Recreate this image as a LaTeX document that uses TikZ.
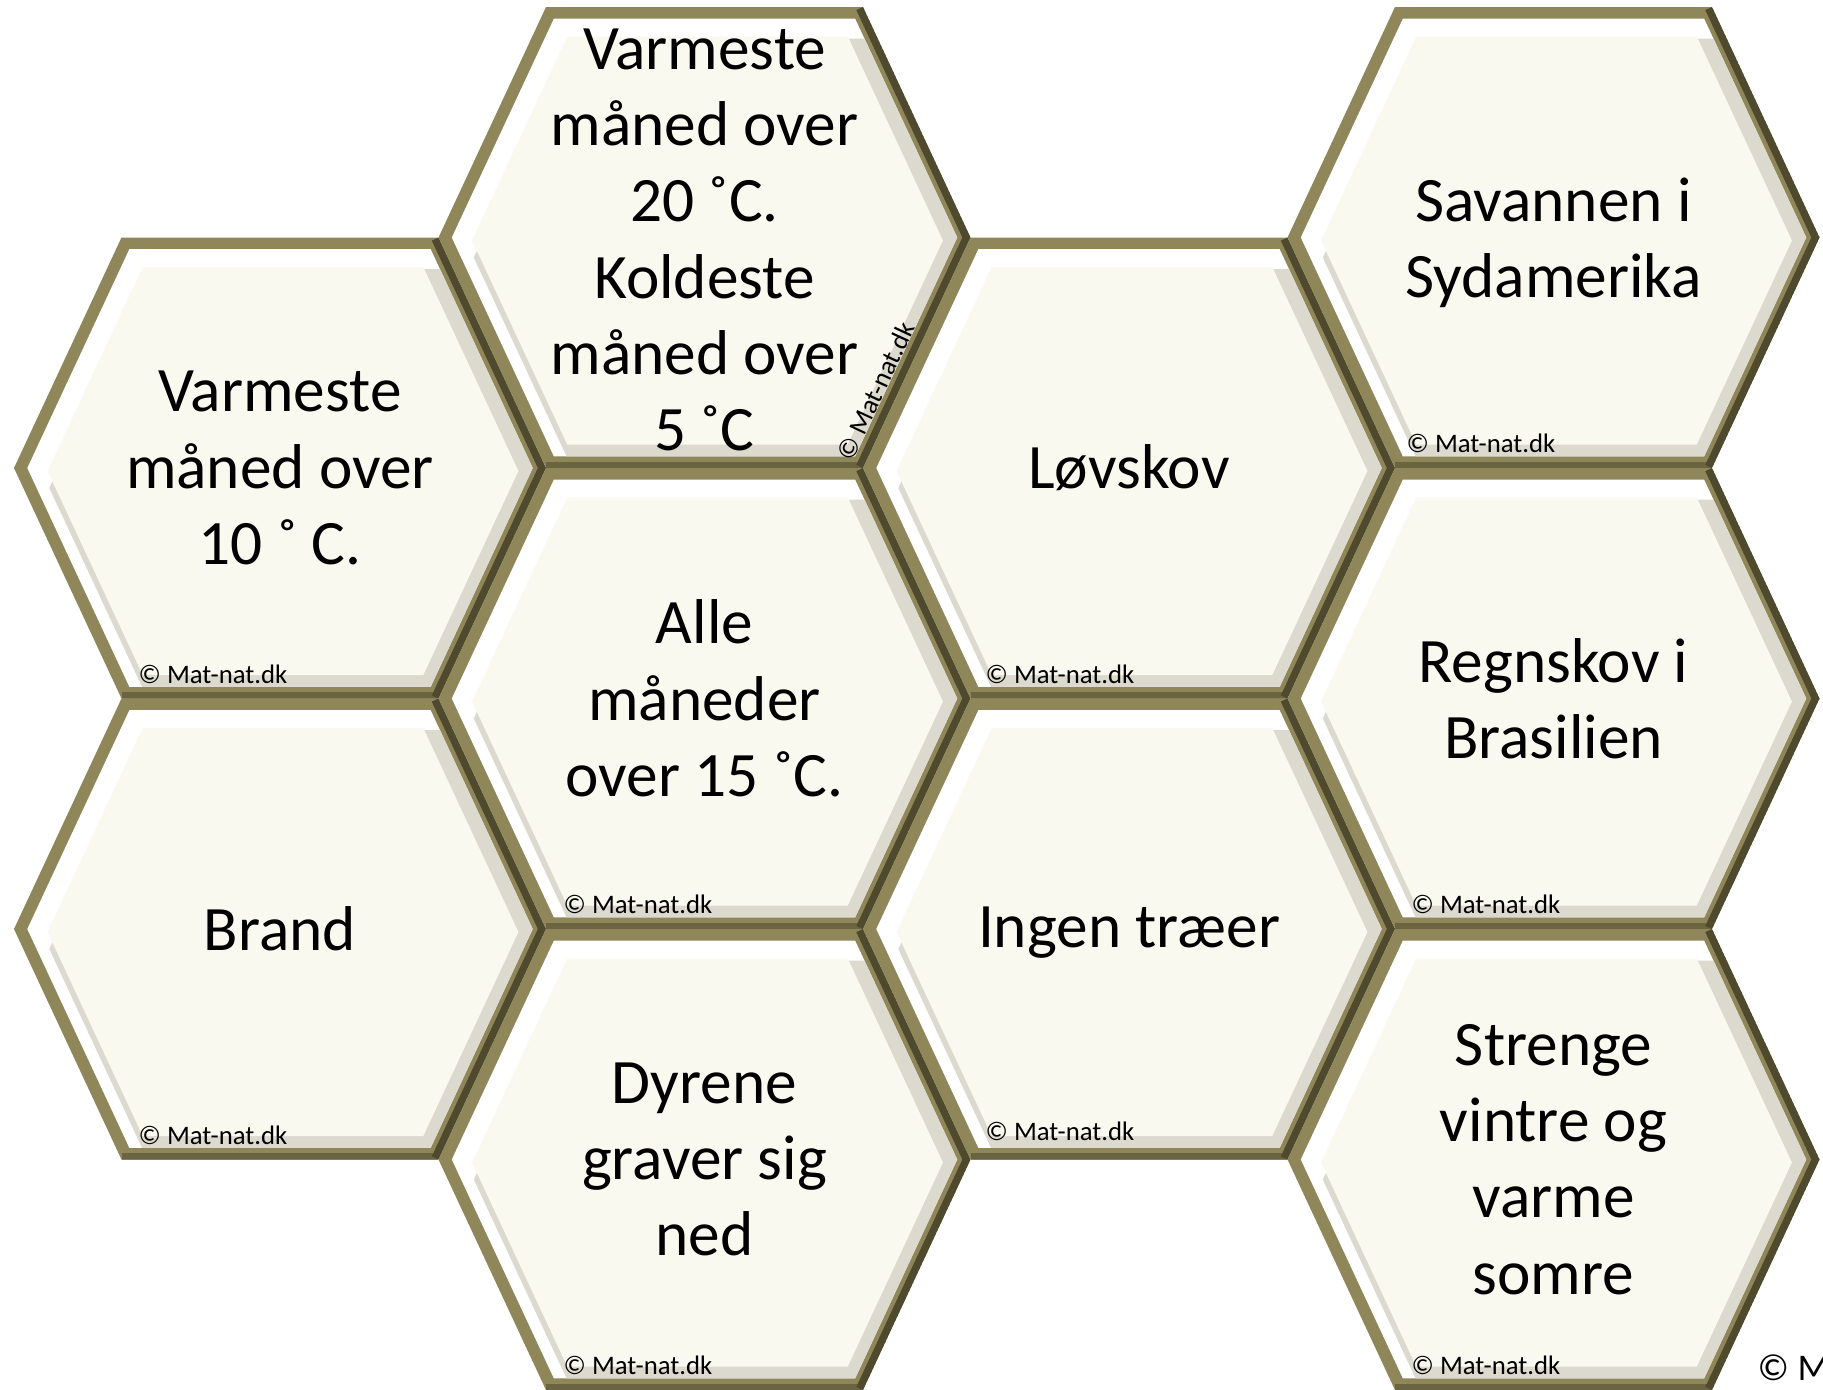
\documentclass[tikz,border=0pt]{standalone}
\usepackage{fontspec}
\setmainfont{Carlito}
\usepackage{tikz}

\definecolor{cellcream}{HTML}{FAF9EF}
\definecolor{rimolive}{HTML}{8F8659}
\definecolor{rimdark}{HTML}{4F4A2E}
\definecolor{rimbottom}{HTML}{6B6440}
\definecolor{cellshade}{HTML}{DCDACE}

\newcommand{\hexoutline}[1]{(-158.5*#1,-230.5*#1) -- (158.5*#1,-230.5*#1) -- (266*#1,0) -- (158.5*#1,230.5*#1) -- (-158.5*#1,230.5*#1) -- (-266*#1,0) -- cycle}

\newcommand{\honeycell}[2]{%
  \begin{scope}[shift={(#1,#2)}]
    \clip \hexoutline{1};
    \fill[rimolive] \hexoutline{1};
    \draw[rimbottom, line width=3.6pt] (158.5,230.5) -- (-158.5,230.5);
    \draw[rimdark, line width=4.2pt, line join=miter] (158.5,-230.5) -- (266,0) -- (158.5,230.5);
    \fill[white] \hexoutline{0.95};
    \begin{scope}
      \clip \hexoutline{0.95};
      \fill[cellshade, shift={(22,20)}] \hexoutline{0.95};
    \end{scope}
    \fill[cellcream, shift={(3,3)}] \hexoutline{0.885};
  \end{scope}}

\begin{document}
\begin{tikzpicture}[x=0.01cm, y=-0.01cm,
    cell/.style={align=center, inner sep=0pt, font=\fontsize{18}{21.7}\selectfont},
    copyline/.style={anchor=base west, inner sep=0pt, font=\fontsize{7.6}{9}\selectfont}]

  \useasboundingbox (0,0) rectangle (1823,1390);

  \foreach \cx/\cy in {280/468, 280/929, 704.5/237.5, 704.5/698.5, 704.5/1159.5,
      1129/468, 1129/929, 1553.5/237.5, 1553.5/698.5, 1553.5/1159.5}
    \honeycell{\cx}{\cy};

  \node[cell] (varme10) at (280,468) {Varmeste\\måned over\\10 ˚ C.};
  \node[cell] (brand) at (280,929) {Brand};
  \node[cell] (varme20) at (704.5,240) {Varmeste\\måned over\\20 ˚C.\\Koldeste\\måned over\\5 ˚C};
  \node[cell] (alle) at (704.5,698.5) {Alle\\måneder\\over 15 ˚C.};
  \node[cell] (dyrene) at (704.5,1159.5) {Dyrene\\graver sig\\ned};
  \node[cell] (loevskov) at (1129,468) {Løvskov};
  \node[cell] (ingen) at (1129,933) {Ingen træer};
  \node[cell] (savanne) at (1553.5,243) {Savannen i\\Sydamerika};
  \node[cell] (regnskov) at (1553.5,698.5) {Regnskov i\\Brasilien};
  \node[cell] (strenge) at (1553.5,1159.5) {Strenge\\vintre og\\varme\\somre};

  \node[copyline] (c1) at (138,683) {© Mat-nat.dk};
  \node[copyline] (c2) at (138,1144) {© Mat-nat.dk};
  \node[copyline] (c3) at (563,913.5) {© Mat-nat.dk};
  \node[copyline] (c4) at (563,1374.5) {© Mat-nat.dk};
  \node[copyline] (c5) at (985,683) {© Mat-nat.dk};
  \node[copyline] (c6) at (985,1140) {© Mat-nat.dk};
  \node[copyline] (c7) at (1406,452.5) {© Mat-nat.dk};
  \node[copyline] (c8) at (1411,913.5) {© Mat-nat.dk};
  \node[copyline] (c9) at (1411,1374.5) {© Mat-nat.dk};
  \node[inner sep=0pt, rotate=65, font=\fontsize{7.6}{9}\selectfont] (c10) at (876,391) {© Mat-nat.dk};

  \node[anchor=base west, inner sep=0pt, font=\fontsize{10.7}{13}\selectfont] (corner) at (1757,1380) {© M};

\end{tikzpicture}
\end{document}
